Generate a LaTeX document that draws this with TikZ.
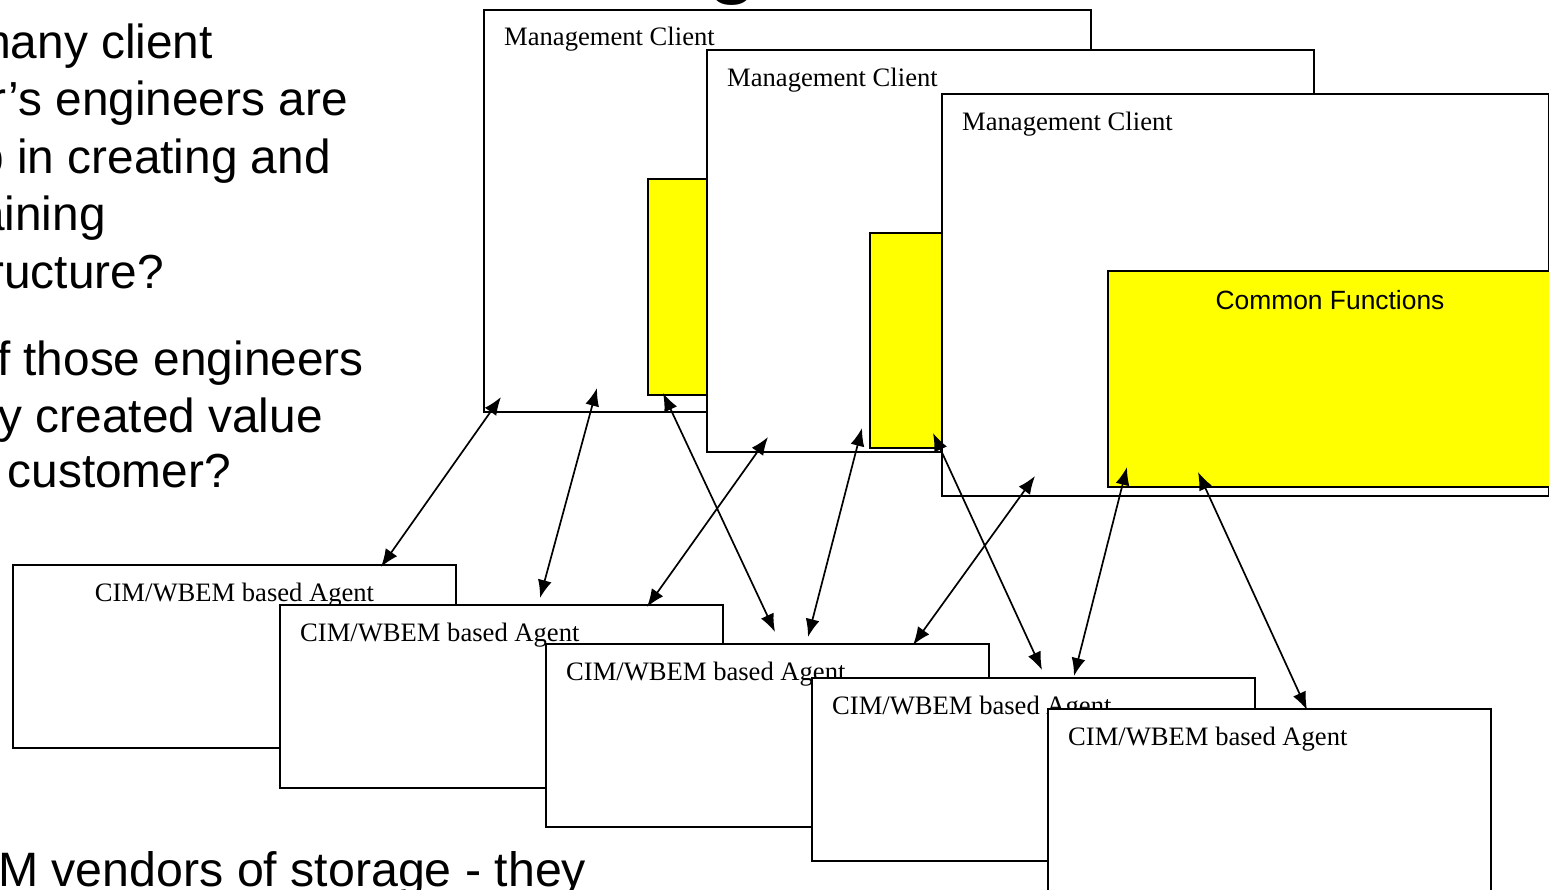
\documentclass[tikz,border=0pt]{standalone}
\usepackage{fontspec}
\setmainfont{Liberation Serif}
\newfontfamily\arialfont{Liberation Sans}
\usetikzlibrary{arrows.meta,calc}
\definecolor{cfyellow}{RGB}{255,255,0}

\begin{document}
\begin{tikzpicture}[x=1pt,y=-1pt,
  client/.style={draw=black, line width=2pt, fill=white, inner sep=0pt, anchor=north west,
    minimum width=607pt, minimum height=402pt},
  agent/.style={draw=black, line width=2pt, fill=white, inner sep=0pt, anchor=north west,
    minimum width=443pt, minimum height=183pt},
  common/.style={draw=black, line width=2pt, fill=cfyellow, inner sep=0pt, anchor=north west,
    minimum width=444pt, minimum height=216pt},
  boxlabel/.style={font=\fontsize{26.6}{30}\selectfont, inner sep=0pt, anchor=base west},
  cflabel/.style={font=\arialfont\fontsize{26.4}{30}\selectfont, inner sep=0pt, anchor=base},
  bullet/.style={font=\arialfont\fontsize{47.8}{57}\selectfont, inner sep=0pt, anchor=base east},
  link/.style={line width=1.7pt, {Latex[length=18pt,width=14pt]}-{Latex[length=18pt,width=14pt]}},
]
\useasboundingbox (0,0) rectangle (1549,889);

% slide title, mostly above the page
\node[font=\arialfont\bfseries\fontsize{80}{90}\selectfont, inner sep=0pt, anchor=base] (title) at (733,-12) {g};

% bullet text on the left
\node[bullet] (q1) at (213,58) {many client};
\node[bullet] (q2) at (348,115.5) {r’s engineers are};
\node[bullet] (q3) at (331,173) {p in creating and};
\node[bullet] (q4) at (106,230.5) {aining};
\node[bullet] (q5) at (164,288) {ructure?};
\node[bullet] (q6) at (364,375) {f those engineers};
\node[bullet] (q7) at (323,432) {y created value};
\node[bullet] (q8) at (231,487) {customer?};
\node[font=\arialfont\fontsize{48.3}{57}\selectfont, inner sep=0pt, anchor=base west] (q9) at (-2,886) {M vendors of storage - they};

% management clients, each with its own common functions
\node[client] (mc1) at (483,9) {};
\node[boxlabel] (mc1t) at ($(mc1.north west)+(21,36)$) {Management Client};
\node[common] (cf1) at (647,178) {};
\node[client] (mc2) at (706,49) {};
\node[boxlabel] (mc2t) at ($(mc2.north west)+(21,37)$) {Management Client};
\node[common, minimum height=215pt] (cf2) at (869,232) {};
\node[client] (mc3) at (941,93) {};
\node[boxlabel] (mc3t) at ($(mc3.north west)+(21,37)$) {Management Client};
\node[common] (cf3) at (1107,270) {};
\node[cflabel] (cf3t) at ($(cf3.north)+(0,39)$) {Common Functions};

% agents
\node[agent] (a1) at (12,564) {};
\node[boxlabel, anchor=base] (a1t) at ($(a1.north)+(0,37)$) {CIM/WBEM based Agent};
\node[agent] (a2) at (279,604) {};
\node[boxlabel] (a2t) at ($(a2.north west)+(21,37)$) {CIM/WBEM based Agent};
\node[agent] (a3) at (545,643) {};
\node[boxlabel] (a3t) at ($(a3.north west)+(21,37)$) {CIM/WBEM based Agent};
\node[agent] (a4) at (811,677) {};
\node[boxlabel] (a4t) at ($(a4.north west)+(21,37)$) {CIM/WBEM based Agent};
\node[agent] (a5) at (1047,708) {};
\node[boxlabel] (a5t) at ($(a5.north west)+(21,37)$) {CIM/WBEM based Agent};

% connection end points
\coordinate (p1a) at (501,397);  \coordinate (p1b) at (381,567);
\coordinate (p2a) at (597,388);  \coordinate (p2b) at (540,598);
\coordinate (p3a) at (663,393);  \coordinate (p3b) at (775,632);
\coordinate (p4a) at (768,437);  \coordinate (p4b) at (647,607);
\coordinate (p5a) at (862,428);  \coordinate (p5b) at (808,637);
\coordinate (p6a) at (933,433);  \coordinate (p6b) at (1042,670);
\coordinate (p7a) at (1035,476); \coordinate (p7b) at (913,645);
\coordinate (p8a) at (1127,467); \coordinate (p8b) at (1074,676);
\coordinate (p9a) at (1198,472); \coordinate (p9b) at (1307,710);

% client <-> agent links
\draw[link] (p1a) -- (p1b);
\draw[link] (p2a) -- (p2b);
\draw[link] (p3a) -- (p3b);
\draw[link] (p4a) -- (p4b);
\draw[link] (p5a) -- (p5b);
\draw[link] (p6a) -- (p6b);
\draw[link] (p7a) -- (p7b);
\draw[link] (p8a) -- (p8b);
\draw[link] (p9a) -- (p9b);
\end{tikzpicture}
\end{document}
